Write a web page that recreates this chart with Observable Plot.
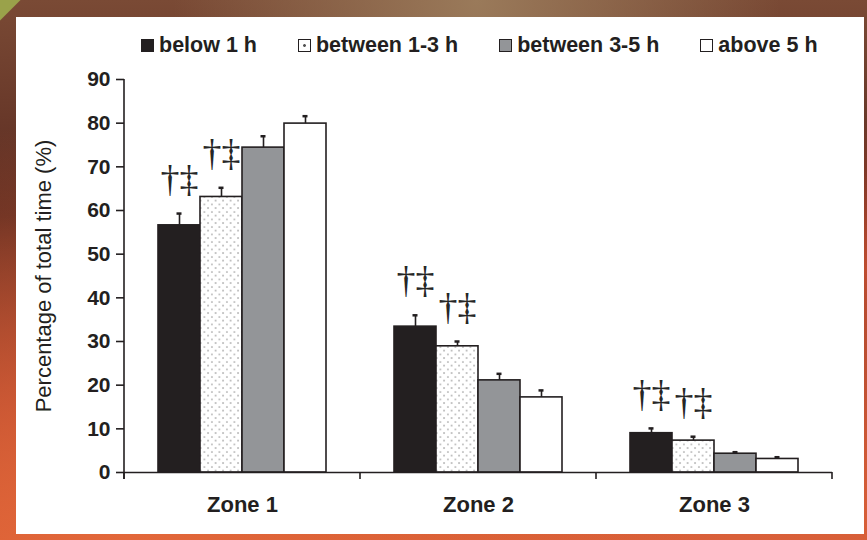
<!DOCTYPE html>
<html>
<head>
<meta charset="utf-8">
<script src="https://cdn.jsdelivr.net/npm/d3@7"></script>
<script src="https://cdn.jsdelivr.net/npm/@observablehq/plot@0.6"></script>
<style>
  html, body { margin: 0; padding: 0; }
  body {
    width: 867px; height: 540px; overflow: hidden; position: relative;
    background:
      linear-gradient(135deg, #9aa24a 0, #9aa24a 14px, transparent 15px),
      radial-gradient(ellipse at 15% 100%, #e2673a 0, rgba(226,103,58,0) 55%),
      radial-gradient(ellipse at 85% 100%, #d9603a 0, rgba(217,96,58,0) 50%),
      radial-gradient(ellipse at 55% 0%, #9a7a5a 0, rgba(154,122,90,0) 45%),
      radial-gradient(ellipse at 100% 50%, #b5452c 0, rgba(181,69,44,0) 40%),
      linear-gradient(180deg, #7a4a35 0%, #5a2a20 40%, #a8402a 75%, #d45a30 100%);
  }
  #panel { position: absolute; left: 16px; top: 17px; width: 848px; height: 517px; background: #fff; }
  #chart { position: absolute; left: 0; top: 0; }
  #legend {
    position: absolute; left: 141px; top: 31px; height: 28px;
    display: flex; align-items: center; gap: 41px;
    font-weight: bold; color: #231f20; white-space: nowrap;
  }
  .item { display: flex; align-items: center; gap: 5px; }
  .sw { width: 11px; height: 11px; border: 1.5px solid #231f20; box-sizing: content-box; }
</style>
</head>
<body>
<div id="panel"></div>
<div id="chart"></div>
<div id="legend"></div>
<script>
// ---- data ----
const zones = ["Zone 1", "Zone 2", "Zone 3"];
const groups = ["below 1 h", "between 1-3 h", "between 3-5 h", "above 5 h"];
const zone1Means = [56.6, 63.1, 74.4, 79.9];
const zone2Means = [33.4, 28.9, 21.1, 17.2];
const zone3Means = [9.0, 7.3, 4.3, 3.1];
const zone1Errs = [2.7, 2.1, 2.6, 1.7];
const zone2Errs = [2.6, 1.1, 1.5, 1.6];
const zone3Errs = [1.1, 0.9, 0.35, 0.4];
const significance = ["†‡", "†‡", "", ""];
const yTicks = [0, 10, 20, 30, 40, 50, 60, 70, 80, 90];
const yLabel = "Percentage of total time (%)";
const fills = ["#231f20", "url(#dots)", "#939598", "#ffffff"];
const ink = "#231f20";

const meansByZone = [zone1Means, zone2Means, zone3Means];
const errsByZone = [zone1Errs, zone2Errs, zone3Errs];
const rows = [];
zones.forEach((z, i) => groups.forEach((g, j) => rows.push({
  zone: z, group: g, mean: meansByZone[i][j], err: errsByZone[i][j], mark: significance[j]
})));

const NF = "'Liberation Sans', Arial, sans-serif";

// ---- legend ----
const legend = d3.select("#legend").style("font-family", NF).style("font-size", "21.5px");
groups.forEach((g, j) => {
  const it = legend.append("div").attr("class", "item");
  const sw = it.append("div").attr("class", "sw");
  if (j === 0) sw.style("background", ink);
  else if (j === 1) sw.style("background", "radial-gradient(circle at 50% 50%, #555 0, #555 1.2px, #fff 1.6px)");
  else if (j === 2) sw.style("background", "#939598");
  else sw.style("background", "#fff");
  it.append("span").text(g);
});

// ---- chart ----
const plot = Plot.plot({
  width: 867,
  height: 540,
  marginLeft: 124,
  marginRight: 35,
  marginTop: 79,
  marginBottom: 68,
  style: { background: "transparent", color: ink, overflow: "visible" },
  fx: { domain: zones, padding: 0, label: null },
  x: { domain: groups, paddingInner: 0, paddingOuter: 0.745, axis: null },
  y: { domain: [0, 90] },
  color: { domain: groups, range: fills },
  marks: [
    Plot.barY(rows, { fx: "zone", x: "group", y: "mean", fill: "group", stroke: ink, strokeWidth: 1.6 }),
    Plot.ruleX(rows, { fx: "zone", x: "group", y1: "mean", y2: d => d.mean + d.err, stroke: ink, strokeWidth: 1.6 }),
    Plot.tickY(rows, { fx: "zone", x: "group", y: d => d.mean + d.err, stroke: ink, strokeWidth: 2.5, insetLeft: 18.5, insetRight: 18.5 }),
    Plot.text(rows.filter(d => d.mark), {
      fx: "zone", x: "group", y: d => d.mean + d.err, text: "mark",
      dy: -34, fontSize: 38, fill: "#262626", fontFamily: "'Liberation Serif', 'DejaVu Serif', serif",
      ariaLabel: "significance"
    }),
    Plot.ruleY([0], { stroke: ink, strokeWidth: 1.6 }),
    Plot.axisY({
      ticks: yTicks, tickSize: 8, tickPadding: 6, tickFormat: d3.format("d"),
      fontSize: 21, fontWeight: "bold", fontFamily: NF,
      stroke: ink, strokeWidth: 1.6,
      label: yLabel, labelAnchor: "center", labelArrow: "none", labelOffset: 89
    }),
    Plot.axisFx({
      anchor: "bottom", tickSize: 0, tickPadding: 24, label: null,
      fontSize: 22, fontWeight: "bold", fontFamily: NF
    })
  ]
});

// pattern for dotted bars, axis line and group-boundary ticks through the plot's own scales
const svg = d3.select(plot);
const defs = svg.insert("defs", ":first-child");
const pat = defs.append("pattern").attr("id", "dots").attr("patternUnits", "userSpaceOnUse")
  .attr("width", 7.5).attr("height", 7.5);
pat.append("rect").attr("width", 7.5).attr("height", 7.5).attr("fill", "#fff");
pat.append("circle").attr("cx", 1.9).attr("cy", 1.9).attr("r", 0.8).attr("fill", "#999");
pat.append("circle").attr("cx", 5.6).attr("cy", 5.6).attr("r", 0.8).attr("fill", "#999");

svg.select('g[aria-label="y-axis label"]')
  .attr("font-size", 22).attr("font-weight", "normal")
  .attr("font-family", NF);
svg.select('g[aria-label="significance"]').attr("letter-spacing", -3);

const fx = plot.scale("fx"), ys = plot.scale("y");
const y0 = ys.apply(0), yTop = ys.apply(90);
const bounds = zones.map(z => fx.apply(z));
bounds.push(fx.apply(zones[zones.length - 1]) + fx.bandwidth);
const g = svg.append("g").attr("stroke", ink).attr("stroke-width", 1.6);
g.append("line").attr("x1", bounds[0]).attr("x2", bounds[0]).attr("y1", yTop).attr("y2", y0 + 7);
bounds.forEach(b => g.append("line").attr("x1", b).attr("x2", b).attr("y1", y0).attr("y2", y0 + 7));

document.getElementById("chart").appendChild(plot);
</script>
</body>
</html>
